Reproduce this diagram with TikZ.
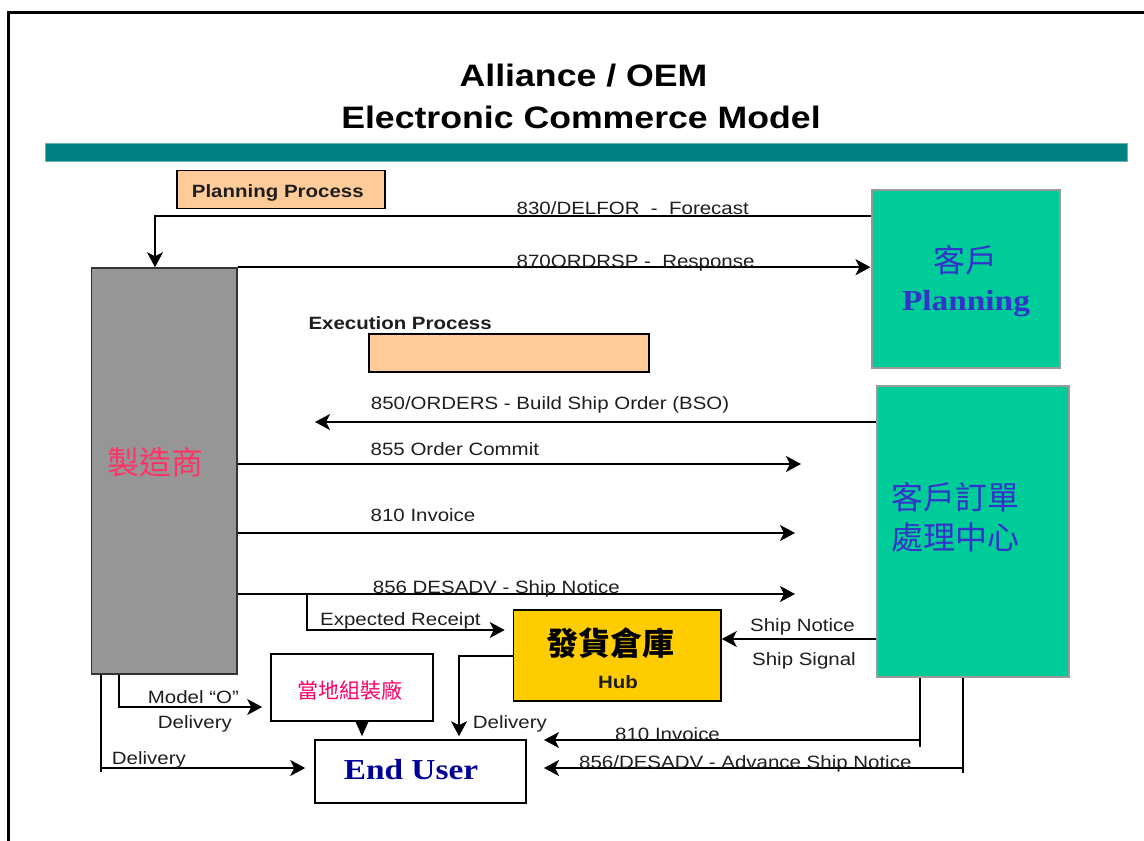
\documentclass[tikz,border=0pt]{standalone}
\usepackage{fontspec}
\setmainfont{Liberation Sans}[FakeStretch=1.15]
\newfontfamily\serifb{Liberation Serif}[FakeStretch=1.15]
\newfontfamily\cjk{Noto Sans CJK TC}
\usetikzlibrary{arrows.meta}
\definecolor{peach}{HTML}{FFCC99}
\definecolor{mfrgray}{HTML}{969696}
\definecolor{custgreen}{HTML}{00CC99}
\definecolor{hubyellow}{HTML}{FFCC00}
\definecolor{tealbar}{HTML}{008080}
\definecolor{tealedge}{HTML}{66B2B2}
\definecolor{pinktxt}{HTML}{FF3366}
\definecolor{redtxt}{HTML}{FF0066}
\definecolor{bluetxt}{HTML}{3333CC}
\definecolor{navytxt}{HTML}{000099}
\definecolor{txt}{HTML}{1E1E1E}
\definecolor{boxedge}{HTML}{999999}
\tikzset{
  lbl/.style={anchor=base west, inner sep=0pt, font=\fontsize{17.8}{20}\selectfont, text=txt},
  arr/.style={line width=1.8pt, -{Stealth[length=15pt,width=16pt,inset=4pt]}},
  ln/.style={line width=1.8pt},
  rbox/.style={inner sep=0pt, line width=1.6pt},
}
\begin{document}
\begin{tikzpicture}[x=1pt,y=-1pt]
\useasboundingbox (0,0) rectangle (1144,841);
\fill[white] (0,0) rectangle (1144,841);
\draw[line width=2.5pt] (8.5,841) -- (8.5,12.5) -- (1144,12.5);
% title
\node[anchor=base, inner sep=0pt, font=\fontsize{31}{36}\selectfont\bfseries] (t1) at (583.5,86) {Alliance / OEM};
\node[anchor=base, inner sep=0pt, font=\fontsize{31}{36}\selectfont\bfseries] (t2) at (581,128) {Electronic Commerce Model};
\fill[tealbar, draw=tealedge, line width=0.8pt] (45,143) rectangle (1127,161);

% boxes
\node[rbox, draw=black, fill=peach, minimum width=208pt, minimum height=38pt] (pp) at (281,189.5) {};
\node[lbl, font=\fontsize{17.8}{20}\selectfont\bfseries] (pptext) at (191.7,197) {Planning Process};
\node[rbox, draw=black!80, fill=mfrgray, minimum width=145.5pt, minimum height=406pt] (mfr) at (164.25,471) {};
\node[inner sep=0pt, font=\cjk\fontsize{32}{36}\selectfont, text=pinktxt] (mfrtext) at (155.5,462) {製造商};
\node[rbox, draw=boxedge, line width=2pt, fill=custgreen, minimum width=188.5pt, minimum height=178pt] (plan) at (965.75,279) {};
\node[inner sep=0pt, font=\cjk\fontsize{32}{36}\selectfont, text=bluetxt] (plantext1) at (965,260) {客戶};
\node[anchor=base, inner sep=0pt, font=\serifb\bfseries\fontsize{29}{32}\selectfont, text=bluetxt] (plantext2) at (966,310.5) {Planning};
\node[lbl, font=\fontsize{17.8}{20}\selectfont\bfseries] (extext) at (308.3,329) {Execution Process};
\node[rbox, draw=black, fill=peach, minimum width=280pt, minimum height=38pt] (exec) at (509,353) {};
\node[rbox, draw=boxedge, line width=2pt, fill=custgreen, minimum width=192.5pt, minimum height=291pt] (ctr) at (972.75,531.5) {};
\node[anchor=west, inner sep=0pt, font=\cjk\fontsize{32}{36}\selectfont, text=bluetxt] (ctrtext1) at (891,497) {客戶訂單};
\node[anchor=west, inner sep=0pt, font=\cjk\fontsize{32}{36}\selectfont, text=bluetxt] (ctrtext2) at (891,537) {處理中心};
\node[rbox, draw=black, fill=hubyellow, minimum width=207.5pt, minimum height=91pt] (hub) at (617.25,655.5) {};
\node[inner sep=0pt, font=\cjk\bfseries\fontsize{32}{36}\selectfont, text=black] (hubtext1) at (610,643) {發貨倉庫};
\node[anchor=base, inner sep=0pt, font=\fontsize{17.8}{20}\selectfont\bfseries, text=txt] (hubtext2) at (618,688) {Hub};
\node[rbox, draw=black, fill=white, minimum width=162pt, minimum height=66.7pt] (local) at (352,687.4) {};
\node[inner sep=0pt, font=\cjk\fontsize{21}{24}\selectfont, text=redtxt] (localtext) at (350,690) {當地組裝廠};
\node[rbox, draw=black, fill=white, minimum width=210.7pt, minimum height=63pt] (eu) at (420.35,771.5) {};
\node[anchor=base, inner sep=0pt, font=\serifb\bfseries\fontsize{29}{32}\selectfont, text=navytxt] (eutext) at (411,779.3) {End User};

% helper coordinates
\coordinate (X155) at (155,216);
\coordinate (e850) at (315,422);
\coordinate (e855) at (801,464);
\coordinate (e810) at (795,533);
\coordinate (e856) at (795,594);
\coordinate (b856) at (307,594);
\coordinate (er) at (307,630);
\coordinate (sn) at (0,639);
\coordinate (hd) at (459,656);
\coordinate (mo) at (119,707);
\coordinate (dl) at (101,768);
\coordinate (lx) at (362,0);
\coordinate (i810) at (920,740);
\coordinate (a856) at (963,768);

% connectors
\draw[arr] (plan.west |- X155) -- (X155) -- (X155 |- mfr.north);
\draw[arr] (mfr.north east) -- (plan.west |- mfr.north);
\draw[arr] (ctr.west |- e850) -- (e850);
\draw[arr] (mfr.east |- e855) -- (e855);
\draw[arr] (mfr.east |- e810) -- (e810);
\draw[arr] (mfr.east |- e856) -- (e856);
\draw[arr, shorten >=8pt] (b856) -- (er) -- (hub.west |- er);
\draw[arr] (ctr.west |- sn) -- (hub.east |- sn);
\draw[arr, shorten >=3pt] (hub.west |- hd) -- (hd) -- (hd |- eu.north);
\draw[arr, shorten >=8pt] (mfr.south -| mo) -- (mo) -- (local.west |- mo);
\draw[ln] (mfr.south -| dl) -- ([yshift=-4pt]dl);
\draw[arr, shorten >=9pt] (dl) -- (eu.west |- dl);
\draw[line width=1.5pt, -{Triangle[length=16pt,width=14pt]}, shorten >=3pt] (local.south -| lx) -- (eu.north -| lx);
\draw[ln] (ctr.south -| i810) -- ([yshift=-7pt]i810);
\draw[arr, shorten >=17.5pt] (i810) -- (eu.east |- i810);
\draw[ln] (ctr.south -| a856) -- ([yshift=-5pt]a856);
\draw[arr, shorten >=17.5pt] (a856) -- (eu.east |- a856);

% labels
\node[lbl] (l830) at (516.5,214.5) {830/DELFOR\ \ -\ \ Forecast};
\node[lbl] (l870) at (516.5,267) {870ORDRSP -\ \ Response};
\node[lbl] (l850) at (370.7,409.5) {850/ORDERS - Build Ship Order (BSO)};
\node[lbl] (l855) at (370.5,455.5) {855 Order Commit};
\node[lbl] (l810) at (370.5,521.5) {810 Invoice};
\node[lbl] (l856) at (372.7,593) {856 DESADV - Ship Notice};
\node[lbl] (lexp) at (320,625) {Expected Receipt};
\node[lbl] (lsn) at (750,631.5) {Ship Notice};
\node[lbl] (lss) at (752,665.5) {Ship Signal};
\node[lbl] (lhd) at (472.7,728) {Delivery};
\node[lbl] (lmo) at (147.7,703) {Model “O”};
\node[lbl] (lmod) at (157.7,728) {Delivery};
\node[lbl] (ldl) at (111.7,764) {Delivery};
\node[lbl] (li810) at (615,740) {810 Invoice};
\node[lbl] (la856) at (579,768) {856/DESADV - Advance Ship Notice};
\end{tikzpicture}
\end{document}
